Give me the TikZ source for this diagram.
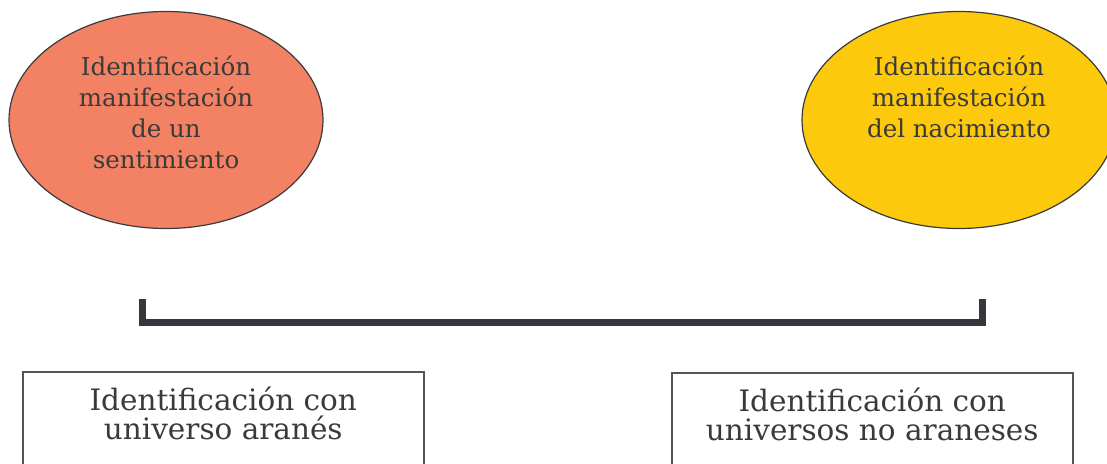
\documentclass[tikz,border=0pt]{standalone}
\usepackage{fontspec}
\setmainfont{DejaVu Serif}
\usetikzlibrary{shapes.geometric}
\definecolor{salmon}{HTML}{F38265}
\definecolor{gold}{HTML}{FCC90C}
\definecolor{ink}{HTML}{3A3A3A}
\definecolor{bar}{HTML}{37363C}
\definecolor{frame}{HTML}{555555}
\tikzset{
  blob/.style={ellipse, draw=ink, line width=1.2pt, minimum width=314pt, minimum height=217pt, inner sep=0pt},
  blobtext/.style={anchor=north, align=center, inner sep=0pt, text=ink, font=\fontsize{24.5}{31}\selectfont},
  framebox/.style={draw=frame, line width=1.5pt, anchor=north west, minimum width=401pt, minimum height=120pt, inner sep=0pt},
  boxtext/.style={anchor=north, align=center, inner sep=0pt, text=ink, font=\fontsize{29.5}{28.5}\selectfont},
  bracket/.style={draw=bar, line width=7pt}
}
\begin{document}
\begin{tikzpicture}[x=1pt,y=-1pt]
\useasboundingbox (0,0) rectangle (1107,463);
\clip (0,0) rectangle (1107,463);
\node[blob, fill=salmon] (e1) at (166,120) {};
\node[blob, fill=gold] (e2) at (959,120) {};
\node[blobtext] (t1) at (166,56) {Identificación\\manifestación\\de un\\sentimiento};
\node[blobtext] (t2) at (959,56) {Identificación\\manifestación\\del nacimiento};
\coordinate (bl) at (142,299);
\coordinate (br) at (982.5,299);
\draw[bracket] (bl) -- ++(0,23) -| (br);
\node[framebox] (b1) at (22,371) {};
\node[framebox] (b2) at (671,372) {};
\node[boxtext] (s1) at ([yshift=-16pt]b1.north) {Identificación con\\universo aranés};
\node[boxtext] (s2) at ([yshift=-16pt]b2.north) {Identificación con\\universos no araneses};
\end{tikzpicture}
\end{document}
